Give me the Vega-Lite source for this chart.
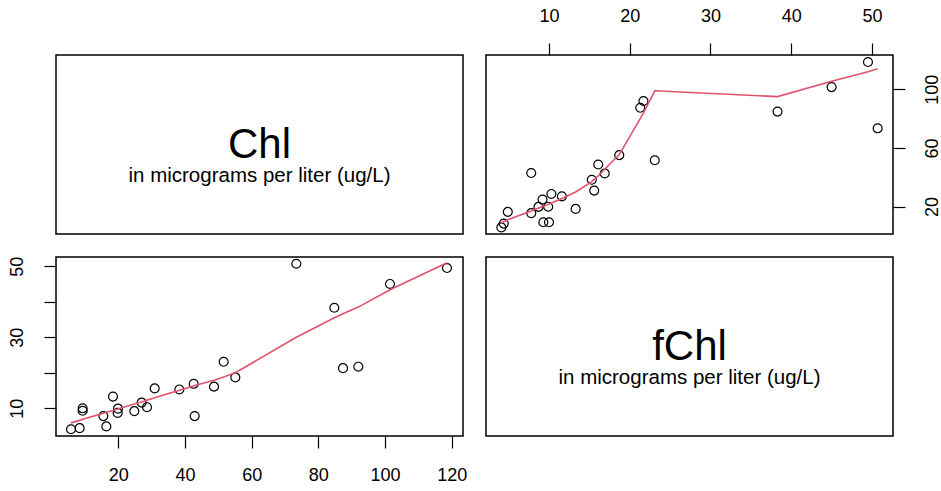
{
  "$schema": "https://vega.github.io/schema/vega-lite/v6.json",
  "background": "white",
  "padding": {"left": 7, "top": 6, "right": 0, "bottom": 0},
  "datasets": {
    "pts": [
      {"Chl": 5.8, "fChl": 4.1},
      {"Chl": 8.4, "fChl": 4.4},
      {"Chl": 9.3, "fChl": 10.0},
      {"Chl": 9.3, "fChl": 9.3},
      {"Chl": 15.5, "fChl": 7.8},
      {"Chl": 16.4, "fChl": 4.9},
      {"Chl": 18.4, "fChl": 13.3},
      {"Chl": 19.9, "fChl": 9.9},
      {"Chl": 19.8, "fChl": 8.7},
      {"Chl": 24.8, "fChl": 9.2},
      {"Chl": 27.0, "fChl": 11.6},
      {"Chl": 28.6, "fChl": 10.3},
      {"Chl": 30.9, "fChl": 15.6},
      {"Chl": 38.3, "fChl": 15.3},
      {"Chl": 42.6, "fChl": 16.9},
      {"Chl": 42.9, "fChl": 7.8},
      {"Chl": 48.7, "fChl": 16.1},
      {"Chl": 51.6, "fChl": 23.1},
      {"Chl": 55.1, "fChl": 18.7},
      {"Chl": 73.4, "fChl": 50.7},
      {"Chl": 84.8, "fChl": 38.3},
      {"Chl": 87.4, "fChl": 21.3},
      {"Chl": 92.0, "fChl": 21.7},
      {"Chl": 101.5, "fChl": 45.0},
      {"Chl": 118.6, "fChl": 49.5}
    ],
    "fitA": [
      {"Chl": 5.8, "fChl": 5.9},
      {"Chl": 8.4, "fChl": 6.6},
      {"Chl": 9.3, "fChl": 6.9},
      {"Chl": 15.5, "fChl": 8.6},
      {"Chl": 16.4, "fChl": 8.9},
      {"Chl": 18.4, "fChl": 9.4},
      {"Chl": 19.85, "fChl": 9.8},
      {"Chl": 24.8, "fChl": 11.2},
      {"Chl": 27.0, "fChl": 11.8},
      {"Chl": 28.6, "fChl": 12.3},
      {"Chl": 30.9, "fChl": 13.0},
      {"Chl": 38.3, "fChl": 15.1},
      {"Chl": 42.6, "fChl": 16.3},
      {"Chl": 42.9, "fChl": 16.4},
      {"Chl": 48.7, "fChl": 17.9},
      {"Chl": 51.6, "fChl": 18.8},
      {"Chl": 55.1, "fChl": 20.0},
      {"Chl": 73.4, "fChl": 30.0},
      {"Chl": 84.8, "fChl": 35.5},
      {"Chl": 87.4, "fChl": 36.6},
      {"Chl": 92.0, "fChl": 38.5},
      {"Chl": 101.5, "fChl": 43.4},
      {"Chl": 118.6, "fChl": 51.0}
    ],
    "fitB": [
      {"fChl": 4.1, "Chl": 9.0},
      {"fChl": 4.4, "Chl": 9.7},
      {"fChl": 4.9, "Chl": 11.0},
      {"fChl": 7.8, "Chl": 17.0},
      {"fChl": 8.7, "Chl": 19.0},
      {"fChl": 9.2, "Chl": 20.0},
      {"fChl": 9.3, "Chl": 20.3},
      {"fChl": 9.9, "Chl": 21.5},
      {"fChl": 10.0, "Chl": 21.8},
      {"fChl": 10.3, "Chl": 22.5},
      {"fChl": 11.6, "Chl": 25.5},
      {"fChl": 13.3, "Chl": 30.0},
      {"fChl": 15.3, "Chl": 37.0},
      {"fChl": 15.6, "Chl": 38.5},
      {"fChl": 16.1, "Chl": 41.0},
      {"fChl": 16.9, "Chl": 45.5},
      {"fChl": 18.7, "Chl": 55.5},
      {"fChl": 21.3, "Chl": 80.0},
      {"fChl": 21.7, "Chl": 84.0},
      {"fChl": 23.1, "Chl": 99.0},
      {"fChl": 38.3, "Chl": 95.0},
      {"fChl": 45.0, "Chl": 105.5},
      {"fChl": 49.5, "Chl": 112.0},
      {"fChl": 50.7, "Chl": 114.0}
    ],
    "labels": [
      {"panel": "Chl", "kind": "name", "px": 0.5, "py": 0.5, "text": "Chl"},
      {"panel": "Chl", "kind": "unit", "px": 0.5, "py": 0.325, "text": "in micrograms per liter (ug/L)"},
      {"panel": "fChl", "kind": "name", "px": 0.5, "py": 0.5, "text": "fChl"},
      {"panel": "fChl", "kind": "unit", "px": 0.5, "py": 0.325, "text": "in micrograms per liter (ug/L)"}
    ]
  },
  "columns": 2,
  "bounds": "flush",
  "spacing": {"row": 23, "column": 23},
  "resolve": {"scale": {"x": "independent", "y": "independent"}},
  "concat": [
    {
      "width": 407,
      "height": 179,
      "data": {"name": "labels"},
      "transform": [{"filter": "datum.panel == 'Chl'"}],
      "layer": [
        {
          "transform": [{"filter": "datum.kind == 'name'"}],
          "mark": {"type": "text", "fontSize": 42, "font": "Liberation Sans", "color": "black", "baseline": "middle", "align": "center"},
          "encoding": {
            "x": {"field": "px", "type": "quantitative", "scale": {"domain": [0, 1]}, "axis": null},
            "y": {"field": "py", "type": "quantitative", "scale": {"domain": [0, 1]}, "axis": null},
            "text": {"field": "text"}
          }
        },
        {
          "transform": [{"filter": "datum.kind == 'unit'"}],
          "mark": {"type": "text", "fontSize": 20.5, "font": "Liberation Sans", "color": "black", "baseline": "middle", "align": "center"},
          "encoding": {
            "x": {"field": "px", "type": "quantitative", "scale": {"domain": [0, 1]}, "axis": null},
            "y": {"field": "py", "type": "quantitative", "scale": {"domain": [0, 1]}, "axis": null},
            "text": {"field": "text"}
          }
        }
      ]
    },
    {
      "width": 407,
      "height": 179,
      "layer": [
        {
          "data": {"name": "pts"},
          "mark": {"type": "point", "filled": false, "stroke": "black", "strokeWidth": 1.2, "size": 80, "opacity": 1},
          "encoding": {
            "x": {"field": "fChl", "type": "quantitative", "scale": {"domain": [2.2, 52.6], "nice": false, "zero": false},
              "axis": {"orient": "top", "values": [10, 20, 30, 40, 50], "title": null}},
            "y": {"field": "Chl", "type": "quantitative", "scale": {"domain": [1.3, 123.4], "nice": false, "zero": false},
              "axis": {"orient": "right", "values": [20, 40, 60, 80, 100, 120], "title": null, "labelAngle": -90, "labelAlign": "center", "labelBaseline": "top",
                "labelExpr": "datum.value % 40 == 20 ? datum.label : ''"}}
          }
        },
        {
          "data": {"name": "fitB"},
          "mark": {"type": "line", "color": "#DF536B", "strokeWidth": 1.6},
          "encoding": {
            "x": {"field": "fChl", "type": "quantitative", "scale": {"domain": [2.2, 52.6], "nice": false, "zero": false}},
            "y": {"field": "Chl", "type": "quantitative", "scale": {"domain": [1.3, 123.4], "nice": false, "zero": false}}
          }
        }
      ]
    },
    {
      "width": 407,
      "height": 179,
      "layer": [
        {
          "data": {"name": "pts"},
          "mark": {"type": "point", "filled": false, "stroke": "black", "strokeWidth": 1.2, "size": 80, "opacity": 1},
          "encoding": {
            "x": {"field": "Chl", "type": "quantitative", "scale": {"domain": [1.3, 123.4], "nice": false, "zero": false},
              "axis": {"orient": "bottom", "values": [20, 40, 60, 80, 100, 120], "title": null}},
            "y": {"field": "fChl", "type": "quantitative", "scale": {"domain": [2.2, 52.6], "nice": false, "zero": false},
              "axis": {"orient": "left", "values": [10, 20, 30, 40, 50], "title": null, "labelAngle": -90, "labelAlign": "center", "labelBaseline": "bottom",
                "labelExpr": "datum.value % 20 == 10 ? datum.label : ''"}}
          }
        },
        {
          "data": {"name": "fitA"},
          "mark": {"type": "line", "color": "#DF536B", "strokeWidth": 1.6},
          "encoding": {
            "x": {"field": "Chl", "type": "quantitative", "scale": {"domain": [1.3, 123.4], "nice": false, "zero": false}},
            "y": {"field": "fChl", "type": "quantitative", "scale": {"domain": [2.2, 52.6], "nice": false, "zero": false}}
          }
        }
      ]
    },
    {
      "width": 407,
      "height": 179,
      "data": {"name": "labels"},
      "transform": [{"filter": "datum.panel == 'fChl'"}],
      "layer": [
        {
          "transform": [{"filter": "datum.kind == 'name'"}],
          "mark": {"type": "text", "fontSize": 42, "font": "Liberation Sans", "color": "black", "baseline": "middle", "align": "center"},
          "encoding": {
            "x": {"field": "px", "type": "quantitative", "scale": {"domain": [0, 1]}, "axis": null},
            "y": {"field": "py", "type": "quantitative", "scale": {"domain": [0, 1]}, "axis": null},
            "text": {"field": "text"}
          }
        },
        {
          "transform": [{"filter": "datum.kind == 'unit'"}],
          "mark": {"type": "text", "fontSize": 20.5, "font": "Liberation Sans", "color": "black", "baseline": "middle", "align": "center"},
          "encoding": {
            "x": {"field": "px", "type": "quantitative", "scale": {"domain": [0, 1]}, "axis": null},
            "y": {"field": "py", "type": "quantitative", "scale": {"domain": [0, 1]}, "axis": null},
            "text": {"field": "text"}
          }
        }
      ]
    }
  ],
  "config": {
    "view": {"stroke": "black", "strokeWidth": 1.5},
    "axis": {
      "grid": false,
      "domain": false,
      "ticks": true,
      "tickColor": "black",
      "tickSize": 12,
      "tickWidth": 1.2,
      "labelFont": "Liberation Sans",
      "labelFontSize": 18,
      "labelColor": "black",
      "labelPadding": 18,
      "labelOverlap": false,
      "labelFlush": false
    }
  }
}
